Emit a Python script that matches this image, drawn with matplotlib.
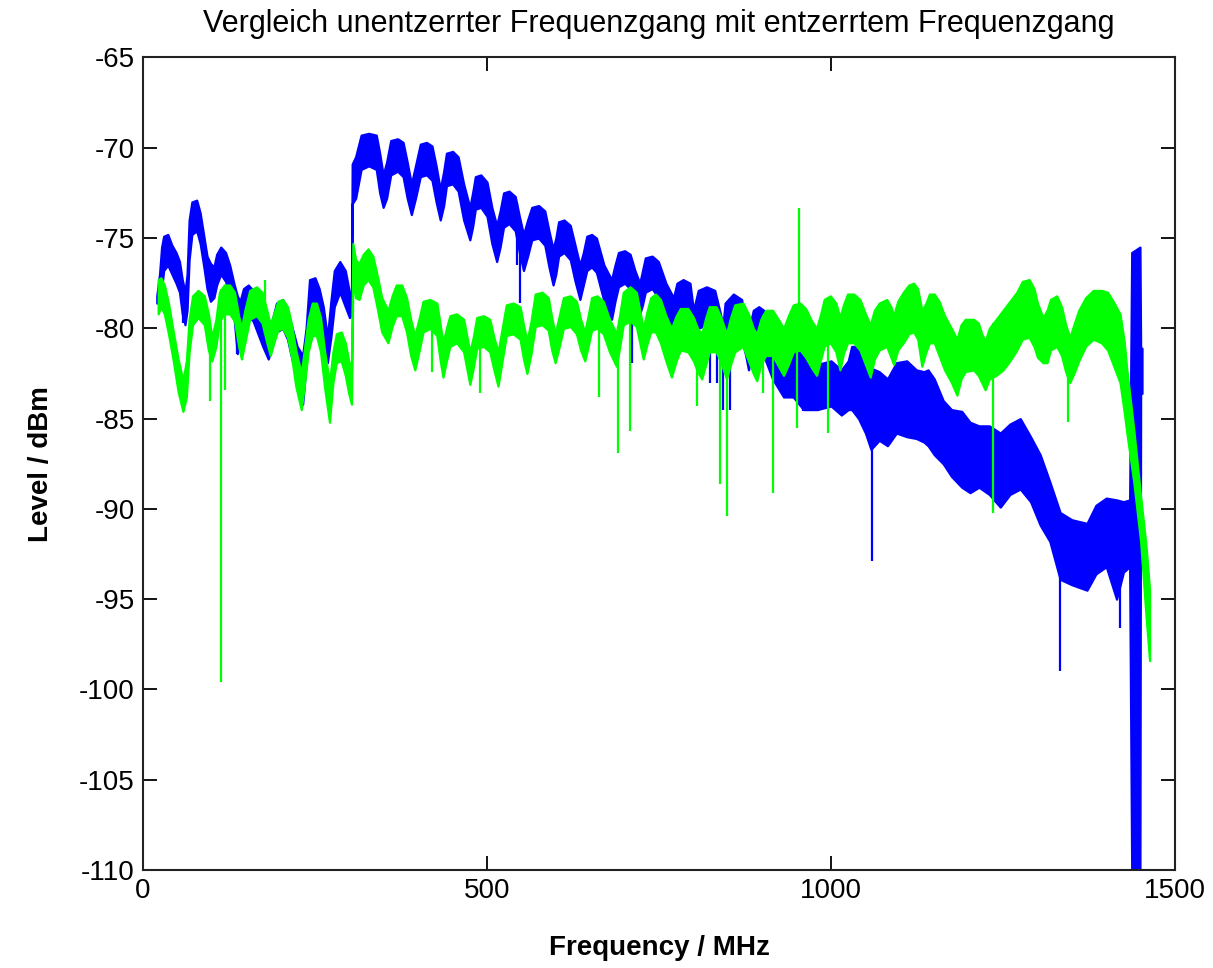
import numpy as np
import matplotlib
matplotlib.use("Agg")
import matplotlib.pyplot as plt

plt.rcParams['font.family'] = ['Liberation Sans', 'DejaVu Sans']
plt.rcParams['axes.unicode_minus'] = False

title = "Vergleich unentzerrter Frequenzgang mit entzerrtem Frequenzgang"
xlabel = "Frequency / MHz"
ylabel = "Level / dBm"
xticks = [0, 500, 1000, 1500]
yticks = [-65, -70, -75, -80, -85, -90, -95, -100, -105, -110]

# unequalized response (blue): frequency [MHz], upper / lower envelope [dBm] of the dense trace
blue_f = [20, 24, 27, 30, 36, 42, 48, 53, 57, 61, 64, 67, 71, 78, 83, 88, 93, 98, 103, 107,
          113, 120, 126, 132, 137, 141, 146, 153, 160, 167, 174, 182, 188, 194, 203, 210, 217,
          224, 232, 237, 242, 250, 256, 262, 268, 273, 278, 286, 294, 300, 303,
          304, 309, 317, 328, 339, 344, 349, 354, 360, 370, 378, 384, 390, 396, 403, 412, 420,
          426, 432, 437, 441, 450, 458, 466, 475, 479, 483, 491, 500, 507, 514, 519, 524, 532,
          541, 547, 553, 559, 565, 575, 584, 590, 596, 600, 604, 612, 621, 628, 635, 640, 645,
          652, 659, 670, 681, 686, 691, 700, 708, 715, 722, 726, 730, 740, 749, 760, 771, 776,
          785, 795, 800, 807, 819, 831, 838, 843, 846, 858, 870, 876, 880, 887, 895, 902, 915,
          931, 945, 960, 980, 1000, 1015, 1025, 1030, 1040, 1050, 1058, 1070, 1082, 1095, 1110,
          1124, 1135, 1141, 1150, 1163, 1175, 1190, 1202, 1215, 1230, 1246, 1260, 1275, 1290,
          1304, 1318, 1333, 1350, 1372, 1385, 1400, 1415, 1425, 1434, 1437, 1449, 1450, 1452]
blue_top = [-78.2, -77.0, -75.5, -74.9, -74.8, -75.4, -75.8, -76.3, -77.3, -78.0, -77.0, -74.0,
            -73.0, -72.9, -73.6, -74.8, -76.0, -76.4, -76.6, -75.9, -75.5, -75.8, -76.5, -77.5,
            -78.2, -78.5, -77.8, -77.6, -77.9, -78.5, -79.3, -80.0, -79.5, -78.6, -78.4, -79.0,
            -80.0, -81.0, -81.5, -80.0, -77.3, -77.2, -77.8, -78.8, -80.5, -78.5, -76.8, -76.3,
            -76.8, -78.0, -78.2,
            -70.9, -70.5, -69.3, -69.2, -69.3, -70.3, -71.5, -70.8, -69.6, -69.5, -69.7, -70.8,
            -72.0, -71.0, -69.8, -69.7, -69.9, -71.0, -72.3, -71.3, -70.3, -70.2, -70.5, -72.0,
            -73.3, -72.5, -71.6, -71.5, -71.9, -73.3, -74.3, -73.5, -72.5, -72.4, -72.7, -73.8,
            -74.8, -74.0, -73.3, -73.2, -73.5, -74.6, -75.6, -75.0, -74.1, -74.0, -74.3, -75.4,
            -76.5, -75.8, -74.9, -74.8, -75.0, -76.5, -77.3, -76.5, -75.8, -75.7, -75.9, -76.8,
            -77.5, -76.8, -76.1, -76.0, -76.3, -77.5, -78.3, -77.5, -77.3, -77.5, -79.0, -77.9,
            -77.7, -77.9, -79.0, -79.8, -78.6, -78.1, -78.4, -79.5, -80.2, -79.0, -78.8, -79.0,
            -80.5, -81.5, -81.0, -81.5, -82.0, -81.8, -82.3, -81.8, -81.0, -81.0, -81.8, -82.2,
            -82.4, -82.8, -81.9, -81.8, -82.3, -82.4, -82.3, -82.8, -84.0, -84.5, -84.6, -85.2,
            -85.4, -85.4, -85.8, -85.3, -85.0, -86.0, -87.0, -88.5, -90.2, -90.6, -90.8, -89.8,
            -89.4, -89.5, -89.6, -89.5, -75.8, -75.5, -81.1, -81.1]
blue_bot = [-78.6, -78.6, -77.8, -76.8, -76.5, -77.0, -77.5, -78.0, -79.2, -79.8, -79.0, -76.2,
            -74.8, -74.6, -75.3, -76.5, -77.8, -78.5, -78.3, -77.6, -77.0, -77.4, -78.2, -79.3,
            -81.4, -80.8, -79.6, -79.3, -79.6, -80.3, -81.0, -81.7, -81.0, -80.2, -80.0, -80.6,
            -81.8, -82.8, -84.2, -82.0, -79.2, -79.2, -79.8, -81.0, -81.9, -80.5, -78.8, -78.0,
            -78.8, -79.4, -79.3,
            -73.1, -72.8, -71.2, -71.0, -71.2, -72.5, -73.3, -72.8, -71.5, -71.3, -71.6, -72.8,
            -73.7, -72.8, -71.6, -71.5, -71.8, -73.0, -74.0, -73.2, -72.1, -72.0, -72.4, -74.0,
            -75.1, -74.4, -73.4, -73.3, -73.8, -75.3, -76.3, -75.5, -74.4, -74.2, -74.6, -75.8,
            -76.8, -76.0, -75.1, -75.0, -75.4, -76.6, -77.6, -77.0, -76.0, -75.8, -76.2, -77.4,
            -78.4, -77.6, -76.8, -76.6, -76.9, -78.5, -79.5, -78.5, -77.7, -77.5, -77.8, -78.8,
            -79.2, -78.7, -78.0, -77.8, -78.3, -79.5, -80.1, -79.5, -79.3, -79.7, -81.4, -80.0,
            -79.8, -80.2, -81.2, -81.8, -80.6, -80.3, -80.6, -81.5, -82.3, -81.3, -81.0, -81.5,
            -82.8, -83.8, -83.8, -84.5, -84.5, -84.3, -84.8, -84.5, -84.5, -85.0, -85.8, -86.7,
            -86.2, -86.5, -85.8, -86.0, -86.1, -86.3, -86.5, -87.0, -87.5, -88.2, -88.8, -89.1,
            -88.8, -89.2, -89.9, -89.2, -88.9, -89.6, -90.9, -91.8, -93.9, -94.2, -94.5, -93.6,
            -93.2, -95.0, -93.5, -93.2, -110.0, -110.0, -83.6, -83.6]
blue_spike_f = [58, 136, 543, 548, 711, 824, 834, 843, 853, 959, 1059, 1333, 1420]
blue_spike_v = [-79.7, -81.4, -76.5, -78.6, -81.9, -83.0, -83.0, -84.5, -84.5, -84.6, -92.9, -99.0, -96.6]

# equalized response (green)
green_f = [22, 26, 31, 37, 44, 51, 58, 63, 67, 72, 80, 89, 95, 100, 106, 111, 118, 126, 133,
           139, 143, 148, 155, 165, 173, 180, 185, 190, 196, 203, 210, 216, 222, 230, 235, 240,
           246, 252, 258, 264, 271, 276, 281, 288, 294, 299, 303,
           305, 309, 314, 320, 327, 334, 340, 347, 356, 362, 368, 376, 383, 389, 395, 401, 407,
           417, 427, 432, 436, 441, 446, 456, 466, 471, 475, 480, 485, 495, 504, 510, 516, 522,
           528, 538, 548, 553, 558, 564, 570, 580, 589, 594, 599, 605, 611, 621, 630, 636, 642,
           647, 652, 660, 669, 678, 688, 693, 698, 708, 717, 722, 727, 733, 738, 745, 752, 760,
           768, 775, 781, 792, 800, 806, 812, 818, 823, 833, 840, 848, 854, 860, 872, 880, 887,
           892, 898, 905, 915, 925, 931, 938, 945, 955, 963, 972, 979, 985, 990, 999, 1007,
           1013, 1018, 1024, 1033, 1042, 1050, 1057, 1063, 1070, 1081, 1087, 1091, 1097, 1105,
           1113, 1120, 1126, 1132, 1138, 1143, 1150, 1157, 1165, 1175, 1183, 1189, 1195, 1207,
           1214, 1219, 1224, 1230, 1240, 1250, 1260, 1270, 1278, 1288, 1295, 1300, 1308, 1314,
           1319, 1328, 1335, 1341, 1347, 1353, 1360, 1370, 1381, 1393, 1402, 1410, 1420, 1426,
           1430, 1440, 1450, 1458, 1463]
green_top = [-77.3, -77.2, -77.6, -78.6, -80.2, -81.7, -82.9, -81.8, -79.5, -78.2, -77.9, -78.2,
             -79.2, -80.5, -79.5, -78.0, -77.6, -77.6, -78.0, -79.3, -80.0, -79.0, -77.9, -77.7,
             -78.0, -79.0, -79.8, -79.2, -78.5, -78.4, -78.8, -79.8, -81.2, -82.5, -81.0, -79.5,
             -78.6, -78.6, -79.4, -81.3, -83.0, -81.3, -80.3, -80.2, -80.8, -81.8, -82.3,
             -75.3, -76.2, -76.4, -75.9, -75.6, -76.0, -77.0, -78.3, -79.0, -78.2, -77.6, -77.6,
             -78.3, -79.5, -80.4, -79.5, -78.5, -78.4, -78.6, -79.8, -80.8, -80.0, -79.3, -79.2,
             -79.5, -80.5, -81.3, -80.5, -79.4, -79.3, -79.5, -80.5, -81.3, -80.0, -78.7, -78.6,
             -78.8, -79.8, -80.7, -79.6, -78.1, -78.0, -78.3, -79.4, -80.3, -79.3, -78.3, -78.2,
             -78.5, -79.5, -80.2, -79.3, -78.3, -78.2, -78.5, -79.5, -80.3, -79.2, -78.0, -77.7,
             -78.0, -79.0, -80.0, -79.0, -78.3, -78.1, -78.4, -79.3, -80.0, -79.3, -78.9, -78.9,
             -79.4, -80.0, -80.3, -79.4, -78.8, -78.8, -79.4, -80.3, -79.4, -78.7, -78.6, -79.2,
             -80.0, -80.3, -79.5, -79.0, -79.0, -79.6, -80.0, -79.3, -78.7, -78.6, -78.9, -79.6,
             -80.0, -79.2, -78.4, -78.2, -78.6, -79.4, -78.7, -78.1, -78.1, -78.4, -79.2, -79.8,
             -79.0, -78.6, -78.4, -78.8, -79.3, -78.5, -78.0, -77.6, -77.5, -77.8, -79.0, -78.6,
             -78.1, -78.1, -78.5, -79.3, -80.0, -80.6, -79.8, -79.5, -79.5, -79.7, -80.3, -80.7,
             -80.0, -79.5, -79.0, -78.5, -78.0, -77.4, -77.3, -77.8, -78.6, -79.4, -79.0, -78.4,
             -78.2, -78.8, -79.8, -80.5, -79.8, -79.0, -78.3, -77.9, -77.9, -78.0, -78.5, -79.2,
             -80.7, -82.3, -85.6, -89.3, -92.1, -94.5]
green_bot = [-79.2, -78.8, -79.2, -80.3, -81.8, -83.5, -84.6, -83.8, -81.3, -79.8, -79.4, -79.8,
             -81.2, -81.8, -81.0, -79.6, -79.2, -79.2, -79.6, -81.0, -81.7, -80.8, -79.5, -79.3,
             -79.7, -80.8, -81.5, -80.8, -80.1, -80.0, -80.5, -81.6, -83.2, -84.5, -83.0, -81.3,
             -80.4, -80.4, -81.3, -83.3, -85.2, -83.0, -81.9, -81.8, -82.6, -83.6, -84.2,
             -77.2, -78.3, -78.4, -77.6, -77.3, -77.7, -78.8, -80.2, -80.8, -79.9, -79.3, -79.3,
             -80.2, -81.5, -82.3, -81.3, -80.2, -80.0, -80.4, -81.8, -82.7, -81.8, -81.0, -80.8,
             -81.3, -82.3, -83.1, -82.2, -81.1, -81.0, -81.3, -82.3, -83.2, -81.8, -80.4, -80.3,
             -80.6, -81.7, -82.5, -81.4, -79.9, -79.8, -80.1, -81.2, -81.9, -81.0, -80.0, -79.9,
             -80.3, -81.2, -81.8, -81.0, -80.1, -80.0, -80.3, -81.3, -82.1, -81.0, -79.8, -79.6,
             -79.9, -80.8, -81.7, -80.8, -80.2, -80.2, -80.8, -81.8, -82.7, -81.8, -81.2, -81.3,
             -81.8, -82.4, -82.8, -82.0, -81.3, -81.3, -81.9, -82.8, -82.0, -81.3, -81.0, -81.8,
             -82.5, -82.9, -82.0, -81.5, -81.5, -82.2, -82.6, -82.0, -81.3, -81.2, -81.6, -82.2,
             -82.6, -81.7, -81.0, -80.8, -81.3, -82.3, -81.4, -80.8, -80.8, -81.2, -82.0, -82.7,
             -81.7, -81.2, -81.0, -81.6, -82.0, -81.2, -80.8, -80.3, -80.2, -80.6, -82.1, -81.3,
             -80.8, -80.8, -81.5, -82.3, -83.0, -83.7, -82.8, -82.4, -82.3, -82.6, -83.0, -83.4,
             -82.8, -82.6, -82.3, -81.8, -81.2, -80.6, -80.5, -81.0, -81.6, -81.9, -81.9, -81.2,
             -81.0, -81.5, -82.4, -83.0, -82.5, -81.8, -81.0, -80.6, -80.8, -81.2, -82.0, -83.0,
             -84.6, -85.8, -88.5, -91.8, -96.0, -98.4]
green_spike_f = [97, 114, 119, 420, 490, 663, 690, 708, 805, 839, 849, 901, 916, 950, 996, 1236, 1344]
green_spike_v = [-84.0, -99.6, -83.4, -82.4, -83.6, -83.8, -86.9, -85.7, -84.3, -88.6, -90.4,
                 -83.6, -89.1, -85.5, -85.8, -90.2, -85.2]
green_upspike_f = [177, 954]
green_upspike_v = [-77.3, -73.35]

BLUE = (0, 0, 1)
GREEN = (0, 1, 0)

fig = plt.figure(figsize=(12.13, 9.68), dpi=100)
ax = fig.add_axes([0.1179, 0.1012, 0.8508, 0.8394])


def draw_band(f, top, bot, color, z):
    ax.fill_between(np.asarray(f, float), bot, top, color=color, linewidth=1.6,
                    edgecolor=color, zorder=z)


def draw_spikes(f, v, env_f, env_ref, color, z):
    base = np.interp(f, env_f, env_ref)
    ax.vlines(f, v, base, color=color, linewidth=1.6, zorder=z)


draw_band(blue_f, blue_top, blue_bot, BLUE, 2)
draw_spikes(blue_spike_f, blue_spike_v, blue_f, blue_top, BLUE, 2)
draw_band(green_f, green_top, green_bot, GREEN, 3)
draw_spikes(green_spike_f, green_spike_v, green_f, green_top, GREEN, 3)
draw_spikes(green_upspike_f, green_upspike_v, green_f, green_bot, GREEN, 3)

ax.set_xlim(0, 1500)
ax.set_ylim(-110, -65)
ax.set_xticks(xticks)
ax.set_yticks(yticks)
ax.tick_params(direction='in', length=10, width=1.3, top=True, right=True,
               labelsize=20, pad=6, colors='black')
for s in ax.spines.values():
    s.set_linewidth(1.5)
    s.set_color('#222222')

ax.set_title(title, fontsize=22, pad=18)
ax.set_xlabel(xlabel, fontsize=20, fontweight='bold', labelpad=22)
ax.set_ylabel(ylabel, fontsize=20, fontweight='bold', labelpad=18)

fig.savefig("out.png", dpi=100)
